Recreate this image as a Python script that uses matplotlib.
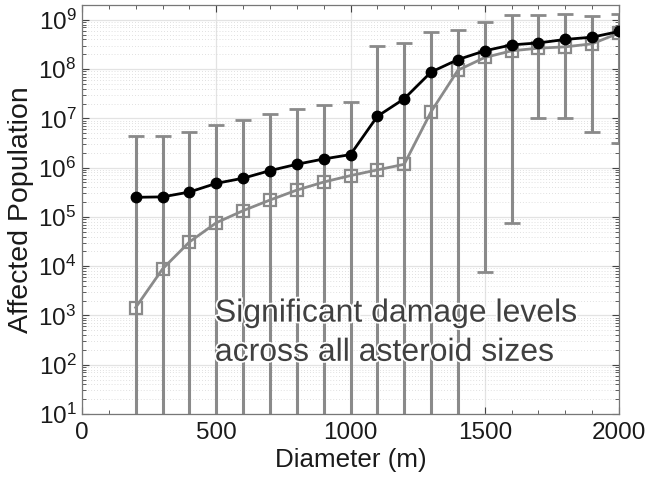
import numpy as np
import matplotlib
matplotlib.use("Agg")
import matplotlib.pyplot as plt
from matplotlib.ticker import LogLocator, MultipleLocator, NullFormatter
import matplotlib.patheffects as pe

plt.rcParams['font.family'] = ['Liberation Sans', 'DejaVu Sans']
plt.rcParams['mathtext.fontset'] = 'custom'
plt.rcParams['mathtext.rm'] = 'Liberation Sans'
plt.rcParams['mathtext.it'] = 'Liberation Sans:italic'
plt.rcParams['mathtext.bf'] = 'Liberation Sans:bold'

# Asteroid diameter (m)
diameter = [200, 300, 400, 500, 600, 700, 800, 900, 1000, 1100,
            1200, 1300, 1400, 1500, 1600, 1700, 1800, 1900, 2000]

# Mean affected population
pop_mean = [2.5e5, 2.55e5, 3.2e5, 4.8e5, 6.1e5, 8.7e5, 1.17e6, 1.5e6, 1.84e6, 1.1e7,
            2.5e7, 8.7e7, 1.56e8, 2.35e8, 3.1e8, 3.4e8, 4.0e8, 4.45e8, 5.8e8]

# Median affected population
pop_median = [1.45e3, 8.8e3, 3.1e4, 7.6e4, 1.34e5, 2.2e5, 3.5e5, 5.1e5, 6.9e5, 9.0e5,
              1.17e6, 1.36e7, 9.5e7, 1.72e8, 2.35e8, 2.66e8, 2.83e8, 3.26e8, 5.4e8]

# Spread of outcomes (upper / lower bounds); lower bounds of 1 fall below the axis
pop_upper = [4.4e6, 4.4e6, 5.3e6, 7.4e6, 9.3e6, 1.23e7, 1.56e7, 1.9e7, 2.2e7, 3.0e8,
             3.4e8, 5.6e8, 6.1e8, 9.1e8, 1.28e9, 1.28e9, 1.32e9, 1.17e9, 1.32e9]
pop_lower = [1, 1, 1, 1, 1, 1, 1, 1, 1, 1,
             1, 1, 1, 7.5e3, 7.7e4, 1.02e7, 1.02e7, 5.3e6, 3.1e6]

x = np.array(diameter, dtype=float)
m = np.array(pop_mean)
med = np.array(pop_median)
up = np.array(pop_upper)
lo = np.array(pop_lower)

fig = plt.figure(figsize=(6.49, 4.87), dpi=100)
ax = fig.add_axes([82 / 649, 1 - 414 / 487, (619 - 82) / 649, (414 - 5) / 487])

ax.set_yscale('log')
ax.set_xlim(0, 2000)
ax.set_ylim(10, 2e9)

# Grid: solid major lines, dotted minor lines on the log axis
ax.grid(True, which='major', color='#e3e3e3', linewidth=0.9, linestyle='-')
ax.grid(True, which='minor', axis='y', color='#d6d6d6', linewidth=0.6, linestyle=(0, (1, 2.5)))
ax.set_axisbelow(True)

gray = '#8a8a8a'
ax.errorbar(x, m, yerr=[m - lo, up - m], fmt='none', ecolor=gray,
            elinewidth=2.2, capsize=5.5, capthick=2.0, zorder=2)

ax.plot(x, med, color=gray, linewidth=2.0, marker='s', markersize=8,
        markerfacecolor='none', markeredgecolor=gray, markeredgewidth=1.6, zorder=3)
ax.plot(x, m, color='black', linewidth=2.0, marker='o', markersize=7.5,
        markerfacecolor='black', markeredgecolor='black', zorder=4)

ax.yaxis.set_major_locator(LogLocator(base=10, numticks=20))
ax.yaxis.set_minor_locator(LogLocator(base=10, subs=np.arange(2, 10), numticks=20))
ax.yaxis.set_minor_formatter(NullFormatter())
ax.xaxis.set_major_locator(MultipleLocator(500))
ax.xaxis.set_minor_locator(MultipleLocator(100))

ax.tick_params(which='both', direction='in', top=True, right=True, colors='#444444',
               labelcolor='#1a1a1a', labelsize=17.5)
ax.tick_params(which='major', length=5, width=0.8)
ax.tick_params(which='minor', length=3, width=0.6)
ax.tick_params(axis='y', pad=4)
ax.tick_params(axis='x', pad=6)

for s in ax.spines.values():
    s.set_color('#777777')
    s.set_linewidth(0.9)

ax.set_xlabel('Diameter (m)', fontsize=18.7, color='#1a1a1a', labelpad=3)
ax.set_ylabel('Affected Population', fontsize=20.5, color='#1a1a1a', labelpad=3)

ax.text(495, 10 ** 2.64, 'Significant damage levels\nacross all asteroid sizes',
        fontsize=23, color='#404040', ha='left', va='center', linespacing=1.4, zorder=5,
        path_effects=[pe.withStroke(linewidth=2.5, foreground='white')])

fig.savefig('out.png', dpi=100)
